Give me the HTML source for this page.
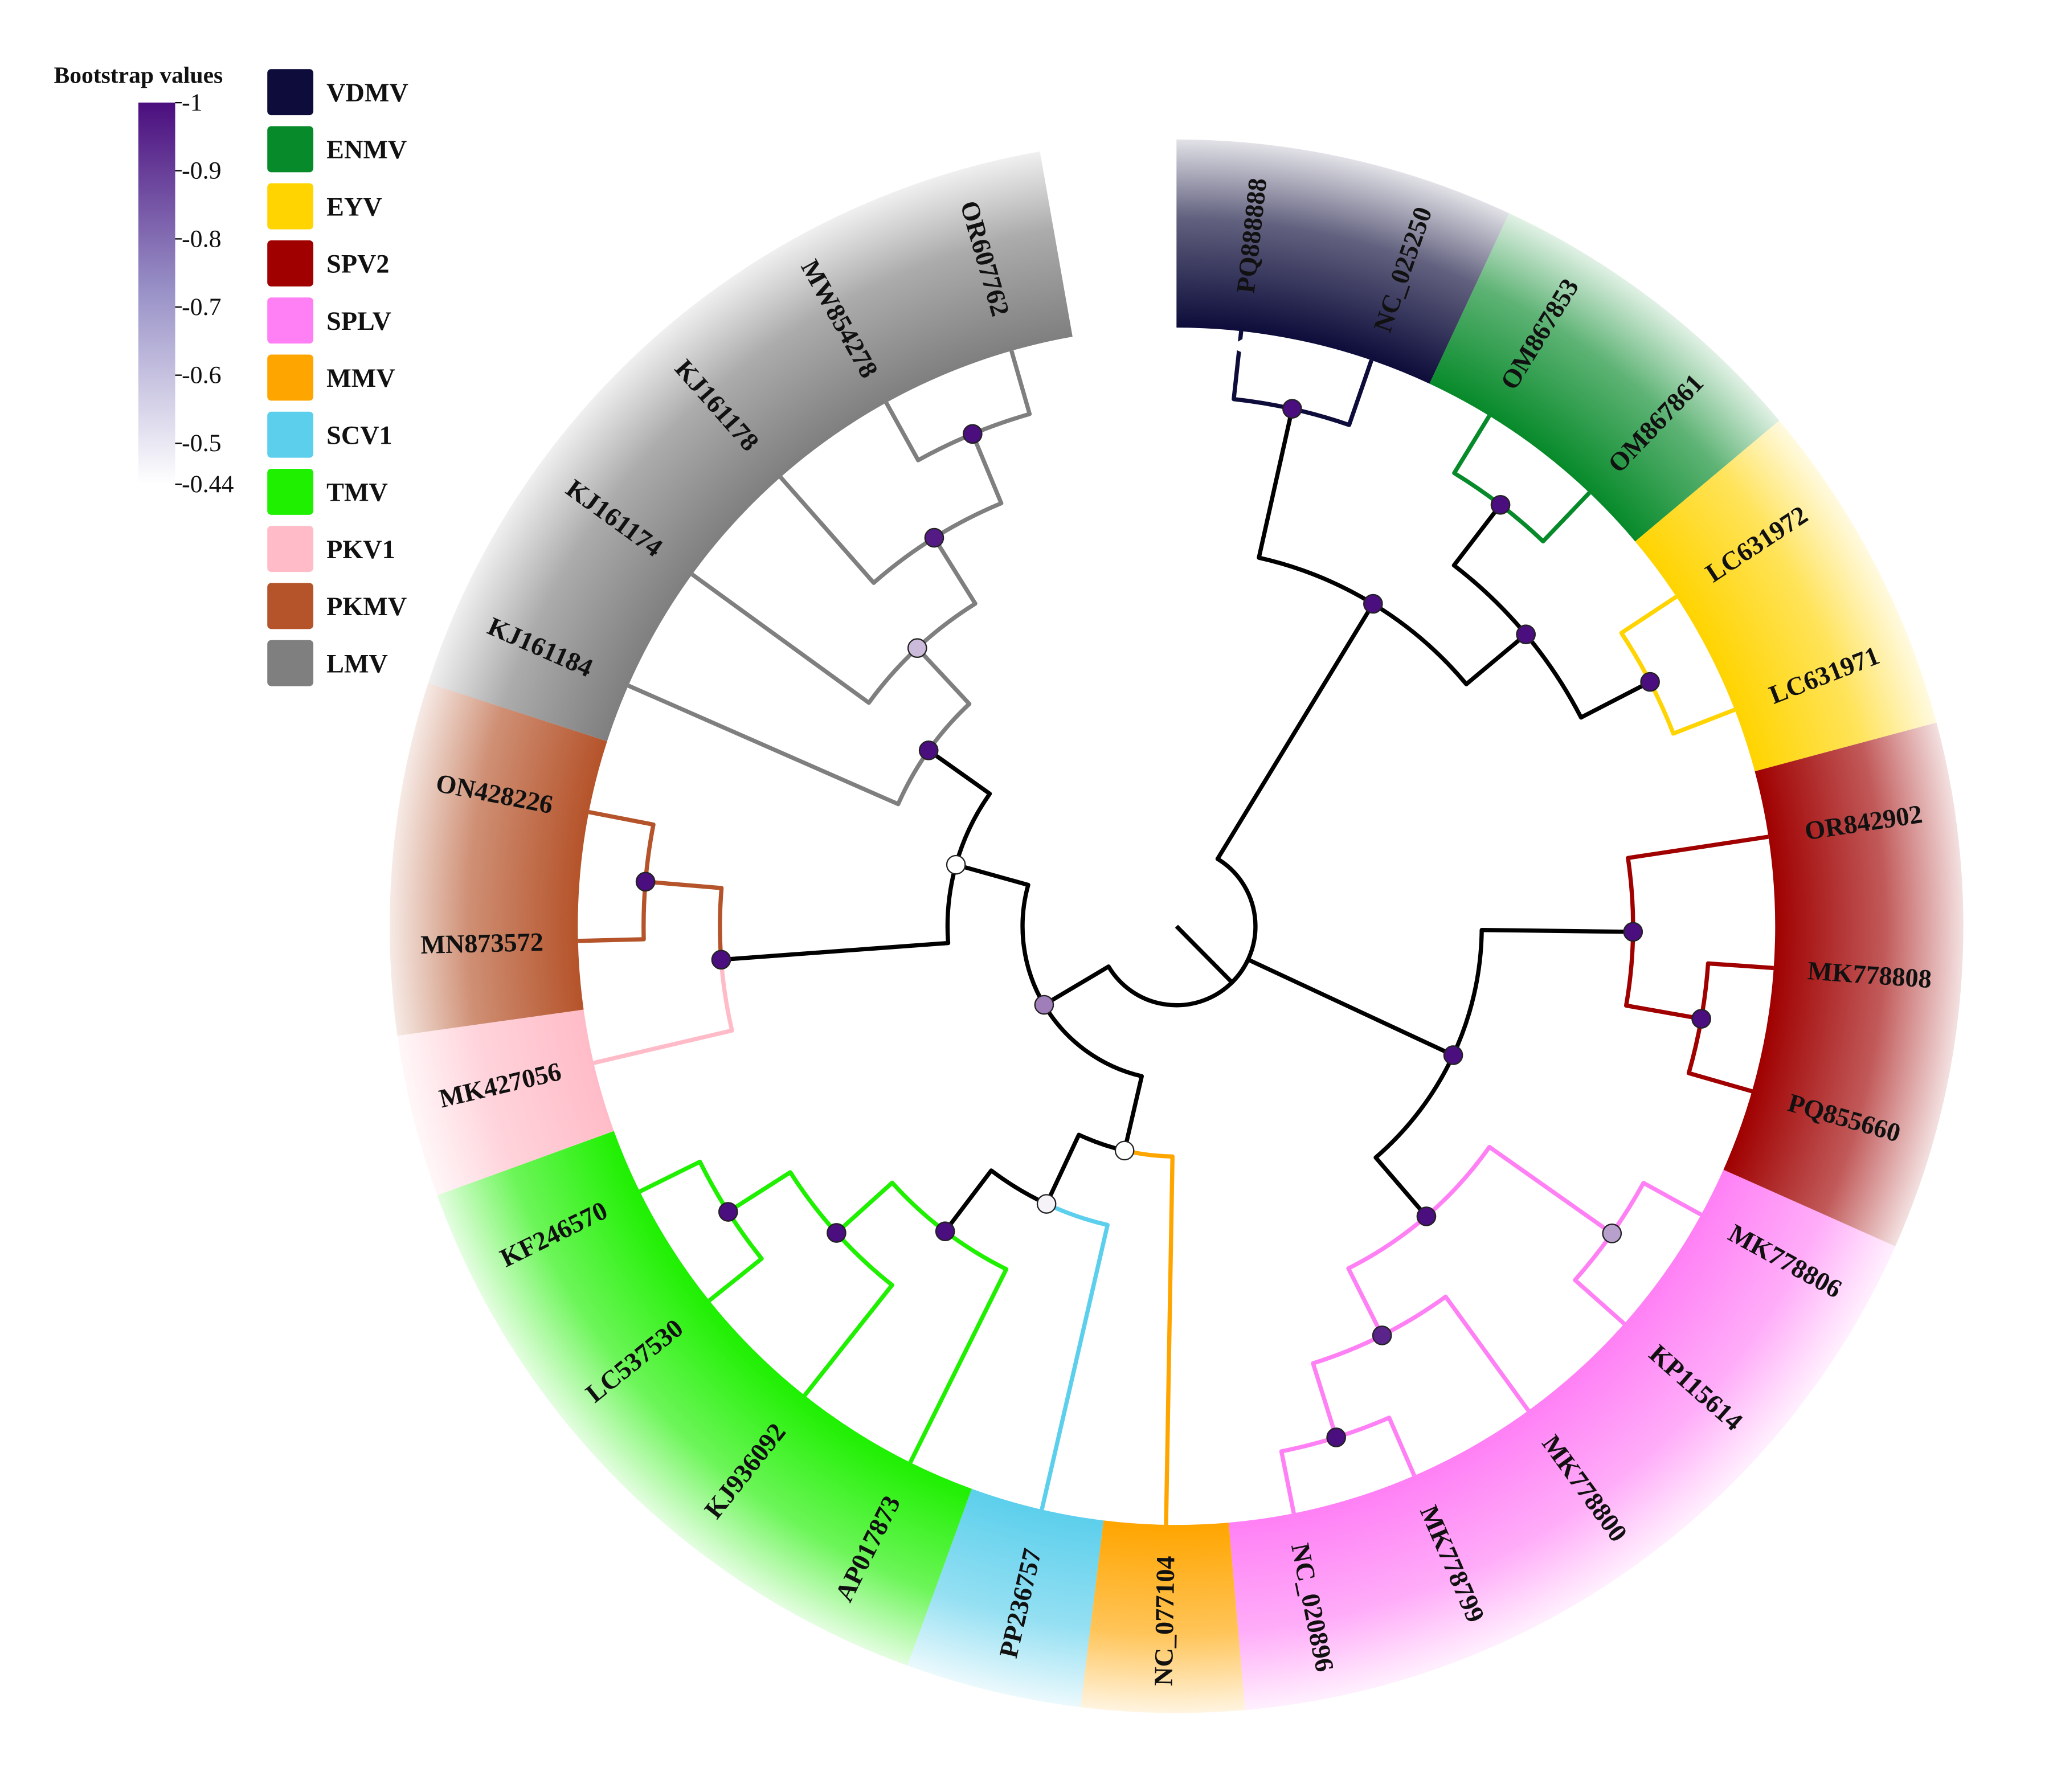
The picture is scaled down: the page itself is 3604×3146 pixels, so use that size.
<!DOCTYPE html>
<html><head><meta charset="utf-8">
<style>
html,body{margin:0;padding:0;background:#fff;}
svg{display:block;}
text{font-family:"Liberation Serif",serif;font-weight:bold;fill:#111;}
</style></head>
<body>
<svg id="chart" width="3604" height="3146" viewBox="0 0 1560 1362" xmlns="http://www.w3.org/2000/svg">
<defs id="defs"></defs>
<g id="bands"></g>
<g id="edges"></g>
<g id="dots"></g>
<g id="labels"></g>
<g id="legend"></g>
</svg>
<script>
// ---- data ----
const cladeNames = ["VDMV","ENMV","EYV","SPV2","SPLV","MMV","SCV1","TMV","PKV1","PKMV","LMV"];
const cladeColors = ["#0d0c3a","#078a2a","#ffd400","#a00000","#ff80f5","#ffa500","#5ccfec","#1ef000","#ffbcc8","#b5532a","#7f7f7f"];
const cladeStart = [0,25,50,75,114,175,187,200,250,262,288];
const cladeEnd =   [25,50,75,114,175,187,200,250,262,288,350];

const leafNames = ["PQ888888","NC_025250","OM867853","OM867861","LC631972","LC631971","OR842902","MK778808","PQ855660","MK778806","KP115614","MK778800","MK778799","NC_020896","NC_077104","PP236757","AP017873","KJ936092","LC537530","KF246570","MK427056","MN873572","ON428226","KJ161184","KJ161174","KJ161178","MW854278","OR607762"];
const leafAngles = [6.2,19,31.5,43.6,56.6,68.8,81.4,94,106,118.8,131.6,144,156.6,168.7,181,193,206.4,218.4,231.3,243.7,256.8,268.6,281,293.7,306,318.6,331,344];
const leafParent = ["VD","VD","EN","EN","EY","EY","S2","S2b","S2b","SLa","SLa","SLb","SLc","SLc","E","F","G","H","I","I","J","K","K","L","M","N","O","O"];
const leafClade = [0,0,1,1,2,2,3,3,3,4,4,4,4,4,5,6,7,7,7,7,8,9,9,10,10,10,10,10];

const nodeIds =       ["A","VD","EE","EN","EY","B","S2","S2b","SL","SLa","SLb","SLc","C","D","E","F","G","H","I","J","K","L","M","N","O"];
const nodeParent =    ["root","A","A","EE","EE","root","B","S2","B","SL","SL","SLb","root","C","C","E","F","G","H","D","J","D","L","M","N"];
const nodeRadius =    [287,403,346,404,405,232,347,405,291,405,348,407,117,174,175,233,291,348,404,347,405,231,289,348,405];
const nodeClade =     [-1,-1,-1,-1,-1,-1,-1,3,-1,4,4,4,-1,-1,-1,-1,-1,7,7,-1,9,-1,10,10,10];
const nodeBootstrap = [1,1,1,1,1,1,1,1,1,0.66,0.95,1,0.74,0.44,0.44,0.47,1,1,1,1,1,1,0.6,0.97,1];

const bsTicks = ["1","0.9","0.8","0.7","0.6","0.5","-0.44"];
const bsTickVals = [1,0.9,0.8,0.7,0.6,0.5,0.44];

// ---- geometry ----
const NS="http://www.w3.org/2000/svg";
const cx=894, cy=704, rootR=60, ringIn=455, ringOut=598, labelR=528;
function pt(r,a){const t=a*Math.PI/180;return [cx+r*Math.sin(t), cy-r*Math.cos(t)];}
function mk(tag,attrs,parent){const e=document.createElementNS(NS,tag);for(const k in attrs)e.setAttribute(k,attrs[k]);parent.appendChild(e);return e;}
function bsColor(v){const f=Math.max(0,Math.min(1,(v-0.44)/0.56));const a=[255,255,255],b=[75,14,126];
 return "rgb("+a.map((x,i)=>Math.round(x+(b[i]-x)*f)).join(",")+")";}

const defs=document.getElementById('defs');
const bands=document.getElementById('bands');
cladeNames.forEach((n,i)=>{
 const g=mk('radialGradient',{id:'g'+i,gradientUnits:'userSpaceOnUse',cx:cx,cy:cy,r:ringOut},defs);
 mk('stop',{offset:ringIn/ringOut,'stop-color':cladeColors[i],'stop-opacity':1},g);
 mk('stop',{offset:0.9,'stop-color':cladeColors[i],'stop-opacity':0.65},g);
 mk('stop',{offset:1,'stop-color':cladeColors[i],'stop-opacity':0.12},g);
 const a0=cladeStart[i],a1=cladeEnd[i];const la=(a1-a0)>180?1:0;
 const p1=pt(ringIn,a0),p2=pt(ringOut,a0),p3=pt(ringOut,a1),p4=pt(ringIn,a1);
 const p=mk('path',{d:`M${p1}L${p2}A${ringOut},${ringOut} 0 ${la} 1 ${p3}L${p4}A${ringIn},${ringIn} 0 ${la} 0 ${p1}Z`,fill:`url(#g${i})`},bands);
 
 
});

const nodes={root:{r:rootR,children:[],color:'#000'}};
nodeIds.forEach((id,i)=>{nodes[id]={r:nodeRadius[i],children:[],color:nodeClade[i]<0?'#000':cladeColors[nodeClade[i]],bs:nodeBootstrap[i],id:id};});
nodeIds.forEach((id,i)=>nodes[nodeParent[i]].children.push(nodes[id]));
leafNames.forEach((n,i)=>{const l={r:ringIn,angle:leafAngles[i],children:[],color:cladeColors[leafClade[i]],leaf:true,name:n};nodes[leafParent[i]].children.push(l);});
function setAngle(n){if(n.leaf)return n.angle;const as=n.children.map(setAngle);n.angle=(Math.min(...as)+Math.max(...as))/2;return n.angle;}
setAngle(nodes.root);

const edges=document.getElementById('edges');
function drawEdges(n){
 n.children.forEach(c=>{
  const p0=pt(n.r,n.angle),p1=pt(n.r,c.angle),p2=pt(c.r,c.angle);
  const sweep=c.angle>n.angle?1:0;const la=Math.abs(c.angle-n.angle)>180?1:0;
  const e=mk('path',{d:`M${p0}A${n.r},${n.r} 0 ${la} ${sweep} ${p1}L${p2}`,fill:'none',stroke:c.color,'stroke-width':3.2,'stroke-linejoin':'round'},edges);
  
  
  drawEdges(c);
 });
}
drawEdges(nodes.root);
const rs=mk('line',{x1:cx,y1:cy,x2:pt(rootR,nodes.root.angle)[0],y2:pt(rootR,nodes.root.angle)[1],stroke:'#000','stroke-width':3.2},edges);



const dots=document.getElementById('dots');
nodeIds.forEach(id=>{const n=nodes[id];const p=pt(n.r,n.angle);
 const c=mk('circle',{cx:p[0],cy:p[1],r:7,fill:bsColor(n.bs),stroke:'#222','stroke-width':1},dots);
 
 
});
{const a=leafAngles[0];const p=pt(ringIn-12,a);
 const t=mk('path',{d:`M${p[0]+6},${p[1]-8}L${p[0]+6},${p[1]+6}L${p[0]-8},${p[1]}Z`,fill:'#fff'},dots);
 
 }

const labels=document.getElementById('labels');
leafNames.forEach((n,i)=>{const a=leafAngles[i];const p=pt(labelR,a);
 const rot=a<180?a-90:a-270;
 const t=mk('text',{x:p[0],y:p[1],'text-anchor':'middle','dominant-baseline':'central','font-size':20,transform:`rotate(${rot} ${p[0]} ${p[1]})`},labels);
 t.textContent=n;
 
 
});

const lg=document.getElementById('legend');
const bt=mk('text',{x:105,y:63,'text-anchor':'middle','font-size':18},lg);bt.textContent='Bootstrap values';


const lgr=mk('linearGradient',{id:'bsg',x1:0,y1:0,x2:0,y2:1},defs);
mk('stop',{offset:0,'stop-color':'#4b0e7e'},lgr);mk('stop',{offset:0.5,'stop-color':'#9a93c8'},lgr);mk('stop',{offset:1,'stop-color':'#ffffff'},lgr);
const barTop=78,barBot=368;
const bar=mk('rect',{x:105,y:barTop,width:28,height:barBot-barTop,fill:'url(#bsg)'},lg);


function bsY(v){return barTop+(1-v)/(1-0.44)*(barBot-barTop);}
bsTicks.forEach((s,i)=>{const y=bsY(bsTickVals[i]);
 mk('line',{x1:133,y1:y,x2:138,y2:y,stroke:'#000','stroke-width':1},lg);
 const t=mk('text',{x:138,y:y+6,'font-size':19},lg);t.style.fontWeight='normal';
 t.textContent=(s[0]==='-'?'':'-')+s;
 
 
});
cladeNames.forEach((n,i)=>{const y=70+i*43.4;
 const r=mk('rect',{x:203,y:y-17.5,width:35,height:35,rx:3,fill:cladeColors[i]},lg);
 
 
 const t=mk('text',{x:248,y:y+7,'font-size':20},lg);t.textContent=n;
 
 
});
</script>
</body></html>
